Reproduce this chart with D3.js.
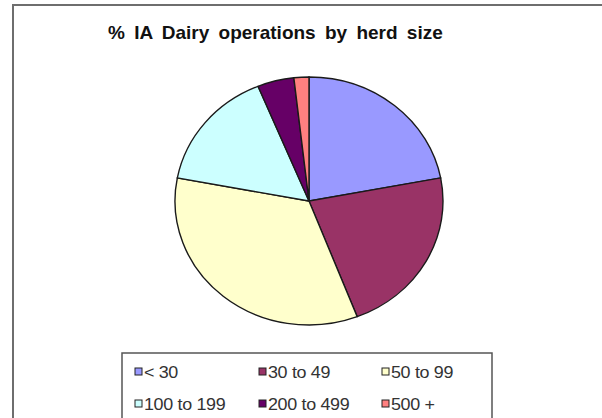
<!DOCTYPE html>
<html>
<head>
<meta charset="utf-8">
<script src="https://cdn.jsdelivr.net/npm/d3@7"></script>
<style>
  html, body { margin: 0; padding: 0; background: #fff; }
  svg { display: block; }
</style>
</head>
<body>
<svg id="chart" width="602" height="418"></svg>
<script>
// Herd-size categories and share of Iowa dairy operations (%)
const categories = ["< 30", "30 to 49", "50 to 99", "100 to 199", "200 to 499", "500 +"];
const shares = [22.0, 22.1, 33.8, 15.8, 4.4, 1.8];
const colors = ["#9999FF", "#993366", "#FFFFCC", "#CCFFFF", "#660066", "#FF8080"];
const title = "% IA Dairy operations by herd size";

const svg = d3.select("#chart");
const font = "Liberation Sans, Arial, sans-serif";

// Chart-area frame
svg.append("rect")
  .attr("x", 13).attr("y", 5)
  .attr("width", 600).attr("height", 430)
  .attr("fill", "#fff")
  .attr("stroke", "#6e6e6e")
  .attr("stroke-width", 2);

// Title
svg.append("text")
  .attr("x", 108).attr("y", 39)
  .attr("font-family", font)
  .attr("font-size", 19)
  .attr("font-weight", "bold")
  .attr("word-spacing", 4)
  .attr("fill", "#111")
  .text(title);

// Pie (drawn slightly wider than tall)
const cx = 309, cy = 201, ry = 124, rx = 134;
const pie = d3.pie().sort(null).value(d => d.v).startAngle(0).endAngle(2 * Math.PI);
const arc = d3.arc().innerRadius(0).outerRadius(ry);
const data = categories.map((c, i) => ({ c, v: shares[i], col: colors[i] }));

const g = svg.append("g")
  .attr("transform", `translate(${cx},${cy}) scale(${rx / ry},1)`);
g.selectAll("path")
  .data(pie(data))
  .join("path")
  .attr("d", arc)
  .attr("fill", d => d.data.col)
  .attr("stroke", "#1a1a1a")
  .attr("stroke-width", 1.4)
  .attr("vector-effect", "non-scaling-stroke");

// Legend
const legend = svg.append("g");
legend.append("rect")
  .attr("x", 122).attr("y", 353)
  .attr("width", 370).attr("height", 80)
  .attr("fill", "#fff")
  .attr("stroke", "#555")
  .attr("stroke-width", 1.5);

const colX = [135, 259, 382];
const rowY = [378, 410];
data.forEach((d, i) => {
  const x = colX[i % 3], y = rowY[Math.floor(i / 3)];
  legend.append("rect")
    .attr("x", x).attr("y", y - 10)
    .attr("width", 7).attr("height", 7)
    .attr("fill", d.col)
    .attr("stroke", "#222")
    .attr("stroke-width", 1);
  legend.append("text")
    .attr("transform", `translate(${x + 9},${y}) scale(1.12,1)`)
    .attr("font-family", font)
    .attr("font-size", 16)
    .attr("letter-spacing", -0.3)
    .attr("fill", "#333")
    .text(d.c);
});
</script>
</body>
</html>
